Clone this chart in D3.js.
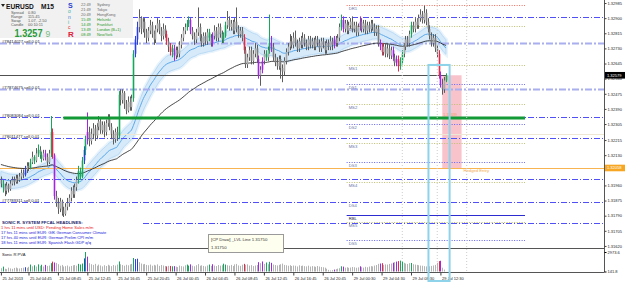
<!DOCTYPE html>
<html><head><meta charset="utf-8">
<script src="https://cdn.jsdelivr.net/npm/d3@7"></script>
<style>
html,body{margin:0;padding:0;background:#fff;overflow:hidden}
svg{display:block;font-family:"Liberation Sans",Arial,sans-serif}
</style></head><body>
<svg id="c" width="625" height="285"></svg>
<script>
// ---------------- DATA ----------------
const opens = [
1.3199,1.3197,1.3195,1.3193,1.3196,1.3194,1.3197,1.3199,1.3198,1.3200,
1.3199,1.3201,1.3203,1.3202,1.3205,1.3207,1.3206,1.3209,1.3212,1.3210,
1.3214,1.3216,1.3213,1.3211,1.3214,1.3212,1.3209,1.3214,1.3226,1.3213,
1.3190,1.3186,1.3183,1.3187,1.3182,1.3180,1.3184,1.3186,1.3189,1.3193,
1.3191,1.3195,1.3199,1.3204,1.3201,1.3210,1.3216,1.3222,1.3226,1.3221,
1.3225,1.3228,1.3224,1.3229,1.3232,1.3227,1.3230,1.3226,1.3231,1.3234,
1.3229,1.3225,1.3222,1.3226,1.3224,1.3247,1.3244,1.3248,1.3242,1.3238,
1.3243,1.3240,1.3245,1.3270,1.3278,1.3285,1.3290,1.3284,1.3288,1.3282,
1.3279,1.3283,1.3286,1.3281,1.3278,1.3284,1.3287,1.3283,1.3280,1.3284,
1.3281,1.3277,1.3274,1.3271,1.3273,1.3269,1.3272,1.3270,1.3275,1.3279,
1.3283,1.3285,1.3287,1.3289,1.3283,1.3280,1.3278,1.3282,1.3285,1.3279,
1.3276,1.3280,1.3277,1.3282,1.3279,1.3276,1.3280,1.3283,1.3279,1.3285,
1.3281,1.3278,1.3280,1.3286,1.3289,1.3285,1.3287,1.3283,1.3288,1.3284,
1.3281,1.3283,1.3279,1.3272,1.3264,1.3268,1.3272,1.3266,1.3270,1.3273,
1.3267,1.3258,1.3261,1.3266,1.3270,1.3268,1.3272,1.3276,1.3274,1.3268,
1.3265,1.3263,1.3267,1.3262,1.3260,1.3266,1.3271,1.3274,1.3277,1.3275,
1.3279,1.3276,1.3273,1.3277,1.3275,1.3279,1.3276,1.3274,1.3278,1.3275,
1.3277,1.3274,1.3278,1.3276,1.3273,1.3277,1.3275,1.3272,1.3276,1.3274,
1.3277,1.3275,1.3278,1.3276,1.3279,1.3285,1.3289,1.3284,1.3287,1.3283,
1.3286,1.3288,1.3284,1.3286,1.3282,1.3285,1.3288,1.3284,1.3287,1.3283,
1.3286,1.3284,1.3287,1.3285,1.3282,1.3284,1.3276,1.3274,1.3271,1.3274,
1.3270,1.3273,1.3269,1.3272,1.3268,1.3265,1.3267,1.3263,1.3266,1.3270,
1.3274,1.3278,1.3276,1.3281,1.3286,1.3284,1.3288,1.3286,1.3290,1.3292,
1.3289,1.3293,1.3288,1.3284,1.3280,1.3276,1.3279,1.3273,1.3270,1.3258,
1.3253,1.3250,1.3255];
const highs = [
1.3201,1.3199,1.3197,1.3198,1.3197,1.3199,1.3201,1.3201,1.3202,1.3202,
1.3203,1.3205,1.3205,1.3207,1.3209,1.3209,1.3211,1.3215,1.3213,1.3217,
1.3219,1.3218,1.3215,1.3216,1.3216,1.3214,1.3216,1.3235,1.3228,1.3214,
1.3193,1.3189,1.3189,1.3188,1.3184,1.3186,1.3189,1.3191,1.3195,1.3196,
1.3197,1.3201,1.3207,1.3206,1.3212,1.3218,1.3224,1.3237,1.3229,1.3228,
1.3231,1.3230,1.3231,1.3235,1.3234,1.3232,1.3232,1.3233,1.3236,1.3236,
1.3231,1.3227,1.3228,1.3229,1.3249,1.3250,1.3250,1.3249,1.3244,1.3246,
1.3246,1.3247,1.3272,1.3280,1.3288,1.3295,1.3291,1.3290,1.3290,1.3284,
1.3285,1.3289,1.3288,1.3283,1.3286,1.3290,1.3289,1.3285,1.3287,1.3286,
1.3283,1.3279,1.3276,1.3275,1.3275,1.3274,1.3274,1.3277,1.3281,1.3285,
1.3287,1.3289,1.3291,1.3290,1.3285,1.3282,1.3284,1.3296,1.3287,1.3281,
1.3282,1.3282,1.3284,1.3284,1.3281,1.3282,1.3286,1.3285,1.3287,1.3287,
1.3283,1.3282,1.3288,1.3294,1.3291,1.3289,1.3289,1.3290,1.3296,1.3286,
1.3285,1.3285,1.3281,1.3274,1.3270,1.3274,1.3274,1.3272,1.3276,1.3275,
1.3269,1.3263,1.3268,1.3272,1.3272,1.3274,1.3292,1.3280,1.3276,1.3270,
1.3268,1.3269,1.3269,1.3264,1.3268,1.3273,1.3276,1.3281,1.3280,1.3282,
1.3283,1.3278,1.3279,1.3280,1.3282,1.3281,1.3278,1.3280,1.3280,1.3279,
1.3279,1.3280,1.3280,1.3278,1.3279,1.3279,1.3277,1.3278,1.3278,1.3280,
1.3279,1.3280,1.3280,1.3281,1.3287,1.3292,1.3291,1.3289,1.3289,1.3288,
1.3290,1.3291,1.3288,1.3288,1.3287,1.3291,1.3290,1.3289,1.3289,1.3288,
1.3288,1.3289,1.3289,1.3287,1.3286,1.3286,1.3278,1.3276,1.3276,1.3276,
1.3276,1.3275,1.3274,1.3274,1.3270,1.3269,1.3269,1.3268,1.3272,1.3276,
1.3280,1.3280,1.3283,1.3288,1.3288,1.3290,1.3290,1.3292,1.3295,1.3294,
1.3297,1.3295,1.3290,1.3286,1.3282,1.3281,1.3281,1.3275,1.3272,1.3260,
1.3256,1.3257,1.3259];
const lows = [
1.3195,1.3192,1.3190,1.3191,1.3192,1.3193,1.3196,1.3196,1.3197,1.3197,
1.3198,1.3199,1.3200,1.3201,1.3203,1.3204,1.3205,1.3208,1.3208,1.3209,
1.3212,1.3211,1.3209,1.3210,1.3210,1.3207,1.3208,1.3212,1.3211,1.3188,
1.3184,1.3180,1.3181,1.3179,1.3178,1.3179,1.3182,1.3184,1.3187,1.3189,
1.3189,1.3193,1.3197,1.3199,1.3200,1.3208,1.3213,1.3219,1.3218,1.3219,
1.3222,1.3221,1.3222,1.3227,1.3225,1.3225,1.3223,1.3224,1.3229,1.3227,
1.3222,1.3219,1.3220,1.3221,1.3222,1.3241,1.3242,1.3239,1.3236,1.3237,
1.3238,1.3238,1.3243,1.3268,1.3275,1.3282,1.3281,1.3282,1.3279,1.3276,
1.3277,1.3281,1.3279,1.3275,1.3276,1.3282,1.3281,1.3277,1.3278,1.3279,
1.3275,1.3271,1.3269,1.3268,1.3266,1.3267,1.3268,1.3268,1.3273,1.3277,
1.3281,1.3283,1.3285,1.3281,1.3278,1.3275,1.3276,1.3280,1.3277,1.3274,
1.3274,1.3275,1.3275,1.3277,1.3274,1.3274,1.3278,1.3277,1.3277,1.3279,
1.3276,1.3276,1.3279,1.3284,1.3283,1.3283,1.3281,1.3281,1.3282,1.3279,
1.3279,1.3277,1.3270,1.3262,1.3262,1.3266,1.3264,1.3264,1.3268,1.3265,
1.3256,1.3252,1.3259,1.3264,1.3266,1.3266,1.3270,1.3271,1.3266,1.3263,
1.3261,1.3261,1.3256,1.3254,1.3258,1.3264,1.3269,1.3272,1.3273,1.3273,
1.3274,1.3271,1.3271,1.3273,1.3273,1.3274,1.3272,1.3272,1.3273,1.3273,
1.3272,1.3272,1.3274,1.3271,1.3271,1.3273,1.3270,1.3270,1.3272,1.3272,
1.3272,1.3273,1.3274,1.3274,1.3277,1.3283,1.3282,1.3282,1.3281,1.3281,
1.3284,1.3282,1.3282,1.3280,1.3280,1.3283,1.3282,1.3282,1.3281,1.3281,
1.3282,1.3282,1.3283,1.3280,1.3280,1.3274,1.3272,1.3269,1.3269,1.3268,
1.3268,1.3267,1.3267,1.3266,1.3263,1.3263,1.3260,1.3261,1.3264,1.3268,
1.3272,1.3274,1.3274,1.3279,1.3282,1.3282,1.3284,1.3284,1.3288,1.3287,
1.3287,1.3286,1.3282,1.3278,1.3274,1.3274,1.3271,1.3268,1.3256,1.3251,
1.3247,1.3248,1.3254];
const closes = [
1.3197,1.3195,1.3193,1.3196,1.3194,1.3197,1.3199,1.3198,1.3200,1.3199,
1.3201,1.3203,1.3202,1.3205,1.3207,1.3206,1.3209,1.3212,1.3210,1.3214,
1.3216,1.3213,1.3211,1.3214,1.3212,1.3209,1.3214,1.3226,1.3213,1.3190,
1.3186,1.3183,1.3187,1.3182,1.3180,1.3184,1.3186,1.3189,1.3193,1.3191,
1.3195,1.3199,1.3204,1.3201,1.3210,1.3216,1.3222,1.3226,1.3221,1.3225,
1.3228,1.3224,1.3229,1.3232,1.3227,1.3230,1.3226,1.3231,1.3234,1.3229,
1.3225,1.3222,1.3226,1.3224,1.3247,1.3244,1.3248,1.3242,1.3238,1.3243,
1.3240,1.3245,1.3270,1.3278,1.3285,1.3290,1.3284,1.3288,1.3282,1.3279,
1.3283,1.3286,1.3281,1.3278,1.3284,1.3287,1.3283,1.3280,1.3284,1.3281,
1.3277,1.3274,1.3271,1.3273,1.3269,1.3272,1.3270,1.3275,1.3279,1.3283,
1.3285,1.3287,1.3289,1.3283,1.3280,1.3278,1.3282,1.3285,1.3279,1.3276,
1.3280,1.3277,1.3282,1.3279,1.3276,1.3280,1.3283,1.3279,1.3285,1.3281,
1.3278,1.3280,1.3286,1.3289,1.3285,1.3287,1.3283,1.3288,1.3284,1.3281,
1.3283,1.3279,1.3272,1.3264,1.3268,1.3272,1.3266,1.3270,1.3273,1.3267,
1.3258,1.3261,1.3266,1.3270,1.3268,1.3272,1.3276,1.3274,1.3268,1.3265,
1.3263,1.3267,1.3262,1.3260,1.3266,1.3271,1.3274,1.3277,1.3275,1.3279,
1.3276,1.3273,1.3277,1.3275,1.3279,1.3276,1.3274,1.3278,1.3275,1.3277,
1.3274,1.3278,1.3276,1.3273,1.3277,1.3275,1.3272,1.3276,1.3274,1.3277,
1.3275,1.3278,1.3276,1.3279,1.3285,1.3289,1.3284,1.3287,1.3283,1.3286,
1.3288,1.3284,1.3286,1.3282,1.3285,1.3288,1.3284,1.3287,1.3283,1.3286,
1.3284,1.3287,1.3285,1.3282,1.3284,1.3276,1.3274,1.3271,1.3274,1.3270,
1.3273,1.3269,1.3272,1.3268,1.3265,1.3267,1.3263,1.3266,1.3270,1.3274,
1.3278,1.3276,1.3281,1.3286,1.3284,1.3288,1.3286,1.3290,1.3292,1.3289,
1.3293,1.3288,1.3284,1.3280,1.3276,1.3279,1.3273,1.3270,1.3258,1.3253,
1.3250,1.3255,1.32579];
const volumes = [
620,850,540,480,700,590,530,660,720,610,
580,640,700,760,680,820,1150,900,1050,860,
1180,940,1120,870,1100,950,1010,1350,1580,1450,
1380,1200,980,1100,870,920,1010,860,950,1040,
1080,990,1250,1160,1300,2050,2973.6,2300,1350,1200,
1100,1250,980,1150,1020,890,1060,940,1120,1010,
920,1080,1000,1150,1600,1200,1090,980,1120,1040,
1180,1250,2100,1950,2000,1500,1300,1180,1240,1100,
1050,1150,980,1110,1020,1180,960,1090,1010,940,
880,960,950,900,920,850,780,1000,920,870,
1040,1150,1000,1180,980,900,1060,1220,980,1040,
950,880,1020,1150,960,1200,1010,930,1080,990,
1060,1280,1150,1050,990,1100,940,1180,1240,1020,
960,1130,1250,1100,1180,1000,1070,930,1010,1090,
1500,1350,1600,1250,1450,1200,1550,1400,1150,1080,
1020,1110,1200,1290,1100,1050,980,1060,940,1010,
980,870,1040,950,1000,920,880,990,860,930,
880,820,940,860,800,760,700,540,380,300,
350,420,480,560,620,900,850,700,760,680,
720,800,760,690,740,900,780,700,820,760,
860,920,880,1000,1080,1250,1300,1350,1100,1180,
1150,1240,1300,1420,1500,1580,1650,1720,1560,1400,
1300,1240,1350,1380,1200,1150,1100,1050,1000,980,
920,880,860,900,950,1020,1100,1400,1650,1700,
700,420,141.8];
// PVA colour class per bar (1 climax bull, 2 climax bear, 3 rising bull, 4 rising bear)
const pvaIdx  = [1,13,16,18,20,22,24,27,28,29,42,43,44,45,46,47,64,72,73,74,90,92,93,94,101,102,103,113,115,121,122,132,140,142,144,146,147,181,185,186,195,206,207,213,215,216,217,218,223,238,239,242];
const pvaKind = [1,3, 1, 1, 1, 1, 4, 1, 2, 4, 1, 1, 1, 3, 1, 4, 1, 1, 3, 3, 2, 2, 1, 4, 1, 1, 4, 1, 4, 1, 1, 2, 4, 4, 1, 1, 4, 4, 1, 4, 4, 4, 2, 4, 4, 2, 1, 1, 1, 2, 4, 1];
const timeIdx    = [0,15,31,47,63,79,95,111,127,143,159,175,191,207,223,239];
const timeLabels = ["25 Jul 2013","25 Jul 04:45","25 Jul 08:45","25 Jul 12:45","25 Jul 16:45","25 Jul 20:45","26 Jul 00:45","26 Jul 04:45","26 Jul 08:45","26 Jul 12:45","26 Jul 16:45","26 Jul 20:45","29 Jul 00:30","29 Jul 04:30","29 Jul 08:30","29 Jul 12:30"];
const priceTicks = [1.32985,1.32900,1.32815,1.32730,1.32645,1.32560,1.32475,1.32390,1.32305,1.32215,1.32130,1.31960,1.31875,1.31790,1.31705,1.31620];
const volTicks = [2973.6, 141.8];
const orderLabels = ["#78414027 sell 0.01","#77874675 sell 0.01","#78083084 sell 0.01","#78011477 sell 0.01","#77789311 sell 0.01"];
const orderPrices = [1.32760,1.32502,1.32344,1.32226,1.31867];
const extraLevels = [1.32905,1.31996,1.31749];
const pivotNames  = ["DR1","MR1","MS1","DS1","MS2","DS2","MS3","DS3","MS4","DS4","RBL","MS5","DS5"];
const pivotPrices = [1.32974,1.32856,1.32637,1.32530,1.32418,1.32305,1.32198,1.32092,1.31979,1.31867,1.31794,1.31754,1.31653];
const bidPrice = 1.32579, hedgePrice = 1.32058, greenLevel = 1.32339, faintLevel = 1.32249, cpLevel = 1.31750;
const ema34Seed = {h:1.3204, l:1.3195, c:1.3200}, ema89Seed = 1.3208;
const sessions = [["22:49","Sydney"],["21:49","Tokyo"],["20:49","HongKong"],["15:49","Helsinki"],["14:49","Frankfurt"],["13:49","London (B+1)"],["08:49","NewYork"]];
const infoRows = [["Spread","0.80"],["Range","115.45"],["Swap","1.07, -2.50"],["Candle","00:10:11"]];
const headlines = ["1 hrs 11 mins until USD: Pending Home Sales m/m","17 hrs 11 mins until EUR: GfK German Consumer Climate","17 hrs 40 mins until EUR: German Prelim CPI m/m","18 hrs 11 mins until EUR: Spanish Flash GDP q/q"];

// ---------------- CHART ----------------
const n = closes.length;
const svg = d3.select("#c");
const AX = 604;
const x = d3.scaleLinear().domain([0, n-1]).range([0.9, 0.9 + 1.839*(n-1)]);
const y = d3.scaleLinear().domain([1.31614, 1.33002]).range([247, 0]);
const yv = d3.scaleLinear().domain([141.8, 2973.6]).range([271.5, 252]);
const pva = new Array(n).fill(0); pvaIdx.forEach((ix,j)=>pva[ix]=pvaKind[j]);
const pvaCol = {1:"#14a85a",2:"#e6284a",3:"#2a40e6",4:"#a424e6"};

svg.append("rect").attr("width",625).attr("height",285).attr("fill","#fff");
const main = svg.append("g");

// vertical dotted separators
[218,237,253].forEach(i=>{
  svg.append("line").attr("x1",x(i)+0.5).attr("x2",x(i)+0.5).attr("y1",0).attr("y2",272)
    .attr("stroke","#cdcdcd").attr("stroke-dasharray","1,2");
});

// pink rectangle
main.append("rect").attr("x",x(240)).attr("width",x(250.5)-x(240))
  .attr("y",y(bidPrice)).attr("height",y(hedgePrice)-y(bidPrice)).attr("fill","#f9c3cc");

// dragon band (EMA 34 of high / low / close)
function ema(arr, p, seed){ const a=2/(p+1); let e=seed; return arr.map(v=>(e=e+a*(v-e))); }
const eh = ema(highs,34,ema34Seed.h), el = ema(lows,34,ema34Seed.l), ec = ema(closes,34,ema34Seed.c);
const e89 = ema(closes,89,ema89Seed);
const band = d3.area().x((d,i)=>x(i)).y0((d,i)=>y(el[i])).y1((d,i)=>y(eh[i])).curve(d3.curveMonotoneX);
main.append("path").datum(closes).attr("d",band).attr("fill","#e8f3fc").attr("stroke","#e8f3fc").attr("stroke-width",4);
main.append("path").datum(closes).attr("d",band).attr("fill","#d7eafa").attr("stroke","#b9daf5").attr("stroke-width",1);
main.append("path").datum(closes).attr("d",d3.line().x((d,i)=>x(i)).y((d,i)=>y(ec[i])).curve(d3.curveMonotoneX))
  .attr("fill","none").attr("stroke","#5aa8ea").attr("stroke-width",1);

// full width lines
function hline(p, x1, x2, col, w, dash){
  main.append("line").attr("x1",x1).attr("x2",x2).attr("y1",Math.round(y(p))+0.5).attr("y2",Math.round(y(p))+0.5)
    .attr("stroke",col).attr("stroke-width",w).attr("stroke-dasharray",dash||null);
}
hline(faintLevel,0,AX,"#ede7d4",1);
hline(hedgePrice,0,AX,"#f7b450",1);
extraLevels.forEach(p=>hline(p,0,AX,"#5050f5",1,"6,2,1,2"));
orderPrices.forEach((p,k)=>{
  if(k<2) hline(p,0,AX,"#a9aeee",2,"7,2,2,2"); else hline(p,0,AX,"#5050f5",1,"6,2,1,2");
  main.append("text").attr("x",2).attr("y",Math.round(y(p))+0.3).attr("font-size",4.2).attr("fill","#202030").text(orderLabels[k]);
});
// pivot lines
pivotPrices.forEach((p,k)=>{
  const nm = pivotNames[k];
  let col="#6464f0", dash="1,1.5", w=1;
  if(nm==="DR1"){col="#f06a5a";}
  else if(nm[0]==="M"){col="#bdbd70";}
  else if(nm==="RBL"){col="#2c2cd0";dash=null;}
  if(nm!=="DS4") hline(p,x(188),x(285),col,w,dash);
  main.append("text").attr("x",x(188)+2).attr("y",Math.round(y(p))+5.2).attr("font-size",4.2)
    .attr("fill", nm==="RBL"?"#202040":"#6a74a8").text(nm);
});
// bid line
hline(bidPrice,0,x(n-1)+1,"#505050",1);

// EMA 89
main.append("path").datum(closes).attr("d",d3.line().x((d,i)=>x(i)).y((d,i)=>y(e89[i])).curve(d3.curveMonotoneX))
  .attr("fill","none").attr("stroke","#1a1a1a").attr("stroke-width",0.8);

// candles
const cg = main.append("g");
closes.forEach((c,i)=>{
  const o=opens[i], k=pva[i], bull=c>=o;
  const col = k? pvaCol[k] : (bull? "#a8a8a8":"#7c7c7c");
  const wick = k? pvaCol[k] : "#5c5c5c";
  const xi = Math.round(x(i))+0.5;
  cg.append("line").attr("x1",xi).attr("x2",xi).attr("y1",y(highs[i])).attr("y2",y(lows[i])).attr("stroke",wick).attr("stroke-width",1);
  const t=y(Math.max(o,c)), b=y(Math.min(o,c));
  cg.append("rect").attr("x",xi-0.8).attr("width",1.6).attr("y",t).attr("height",Math.max(0.8,b-t)).attr("fill",col);
});

// green level line
main.append("line").attr("x1",x(34)).attr("x2",x(285)).attr("y1",y(greenLevel)).attr("y2",y(greenLevel))
  .attr("stroke","#119a35").attr("stroke-width",3);
// small orange labels
main.append("text").attr("x",x(240)+1).attr("y",y(greenLevel)-2).attr("font-size",3.8).attr("fill","#f0a060").text("1.32339");
main.append("text").attr("x",x(251)+1).attr("y",y(hedgePrice)+4.5).attr("font-size",4.2).attr("fill","#f2a94a").text("Hedged Entry");

// info panel (top-left)
svg.append("rect").attr("x",0).attr("y",0).attr("width",133).attr("height",38).attr("fill","#f1f1f1");
svg.append("path").attr("d","M1,4 L5,4 L3,7 Z").attr("fill","#222");
svg.append("text").attr("x",6).attr("y",9).attr("font-size",6.6).attr("font-weight","bold").attr("fill","#111").text("EURUSD");
svg.append("text").attr("x",41).attr("y",9).attr("font-size",6.6).attr("font-weight","bold").attr("fill","#111").text("M15");
infoRows.forEach((r,k)=>{
  svg.append("text").attr("x",11).attr("y",14+k*4.1).attr("font-size",3.9).attr("fill","#555").text(r[0]);
  svg.append("text").attr("x",28).attr("y",14+k*4.1).attr("font-size",3.9).attr("fill","#555").text(r[1]);
});
svg.append("text").attr("x",14.5).attr("y",37).attr("font-size",10).attr("font-weight","bold").attr("fill","#279a3a")
  .attr("textLength",28).attr("lengthAdjust","spacingAndGlyphs").text("1.3257");
svg.append("text").attr("x",45.5).attr("y",37).attr("font-size",8.5).attr("fill","#7cbc84").text("9");
const sonic=[["S","#1f3fd0",7,8,"bold"],["o","#40b0a8",5,13,"normal"],["n","#3f7fd8",5,18.5,"normal"],["i","#38b090",5,23.5,"normal"],["c","#e03232",5,29,"normal"],["R","#e0203a",8,37,"bold"]];
sonic.forEach(s=>svg.append("text").attr("x",68).attr("y",s[3]).attr("font-size",s[2]).attr("font-weight",s[4]).attr("fill",s[1]).text(s[0]));
sessions.forEach((s,k)=>{
  const col = k<3? "#6a6a6a":"#2a9a2a";
  svg.append("text").attr("x",81).attr("y",6+k*5).attr("font-size",3.9).attr("fill",col).text(s[0]);
  svg.append("text").attr("x",97).attr("y",6+k*5).attr("font-size",3.9).attr("fill",col).text(s[1]);
});

// headlines panel
svg.append("rect").attr("x",0).attr("y",217).attr("width",142).attr("height",31).attr("fill","#fff");
svg.append("text").attr("x",2).attr("y",224).attr("font-size",4.3).attr("font-weight","bold").attr("fill","#1c1c6c").text("SONIC R. SYSTEM FFCAL HEADLINES:");
headlines.forEach((h,k)=>svg.append("text").attr("x",1).attr("y",229+k*5).attr("font-size",4.1)
  .attr("fill",k===0?"#e82020":"#2020d8").text(h));

// window borders
svg.append("line").attr("x1",0).attr("x2",AX).attr("y1",248.5).attr("y2",248.5).attr("stroke","#555");
svg.append("line").attr("x1",0).attr("x2",AX).attr("y1",272.5).attr("y2",272.5).attr("stroke","#555");
svg.append("line").attr("x1",AX+0.5).attr("x2",AX+0.5).attr("y1",0).attr("y2",272.5).attr("stroke","#555");

// volume (Sonic R PVA)
const vg = svg.append("g");
volumes.forEach((v,i)=>{
  const k=pva[i];
  vg.append("rect").attr("x",Math.round(x(i))).attr("width",1).attr("y",yv(v)).attr("height",Math.max(0,271.5-yv(v)))
    .attr("fill",k?pvaCol[k]:"#b4b4b4");
});
svg.append("text").attr("x",2).attr("y",256).attr("font-size",4.1).attr("fill","#222").text("Sonic R PVA");

// price axis
const ga = svg.append("g").attr("transform",`translate(${AX+0.5},0)`)
  .call(d3.axisRight(y).tickValues(priceTicks).tickFormat(d3.format(".5f")).tickSize(2).tickPadding(1));
ga.select(".domain").remove();
ga.selectAll("line").attr("stroke","#444");
ga.selectAll("text").attr("font-size",4).attr("fill","#222").attr("font-family","Liberation Sans, Arial");
const gv = svg.append("g").attr("transform",`translate(${AX+0.5},0)`)
  .call(d3.axisRight(yv).tickValues(volTicks).tickFormat((d,i)=>["2973.6","141.8"][i]).tickSize(2).tickPadding(1));
gv.select(".domain").remove();
gv.selectAll("text").attr("font-size",4).attr("fill","#222").attr("font-family","Liberation Sans, Arial");
// price boxes
[[bidPrice,"#000","#fff"],[hedgePrice,"#f6a623","#fff"]].forEach(b=>{
  const yy=y(b[0]);
  svg.append("rect").attr("x",AX+1).attr("y",yy-3.3).attr("width",20).attr("height",6.6).attr("fill",b[1]);
  svg.append("text").attr("x",AX+3).attr("y",yy+1.5).attr("font-size",4).attr("fill",b[2]).text(d3.format(".5f")(b[0]));
});

// time axis
const gx = svg.append("g").attr("transform","translate(0,272.5)")
  .call(d3.axisBottom(x).tickValues(timeIdx).tickFormat((d,i)=>timeLabels[i]).tickSize(3).tickPadding(1.5));
gx.select(".domain").remove();
gx.selectAll("line").attr("stroke","#444");
gx.selectAll("text").attr("text-anchor","start").attr("x",1).attr("font-size",4).attr("fill","#222").attr("font-family","Liberation Sans, Arial");

// cyan rectangle (on top)
svg.append("rect").attr("x",x(232.5)).attr("y",y(pivotPrices[2])).attr("width",x(244)-x(232.5)).attr("height",281-y(pivotPrices[2]))
  .attr("fill","none").attr("stroke","#8ed3ea").attr("stroke-width",2);

// tooltip
svg.append("rect").attr("x",208.5).attr("y",234.5).attr("width",75).attr("height",18).attr("fill","#fffff0").attr("stroke","#9a9a9a");
svg.append("text").attr("x",211).attr("y",241).attr("font-size",4.3).attr("fill","#333").text("[CP Draw] _LVL Line "+d3.format(".5f")(cpLevel));
svg.append("text").attr("x",211).attr("y",249).attr("font-size",4.3).attr("fill","#333").text(d3.format(".5f")(cpLevel));
</script>
</body></html>
